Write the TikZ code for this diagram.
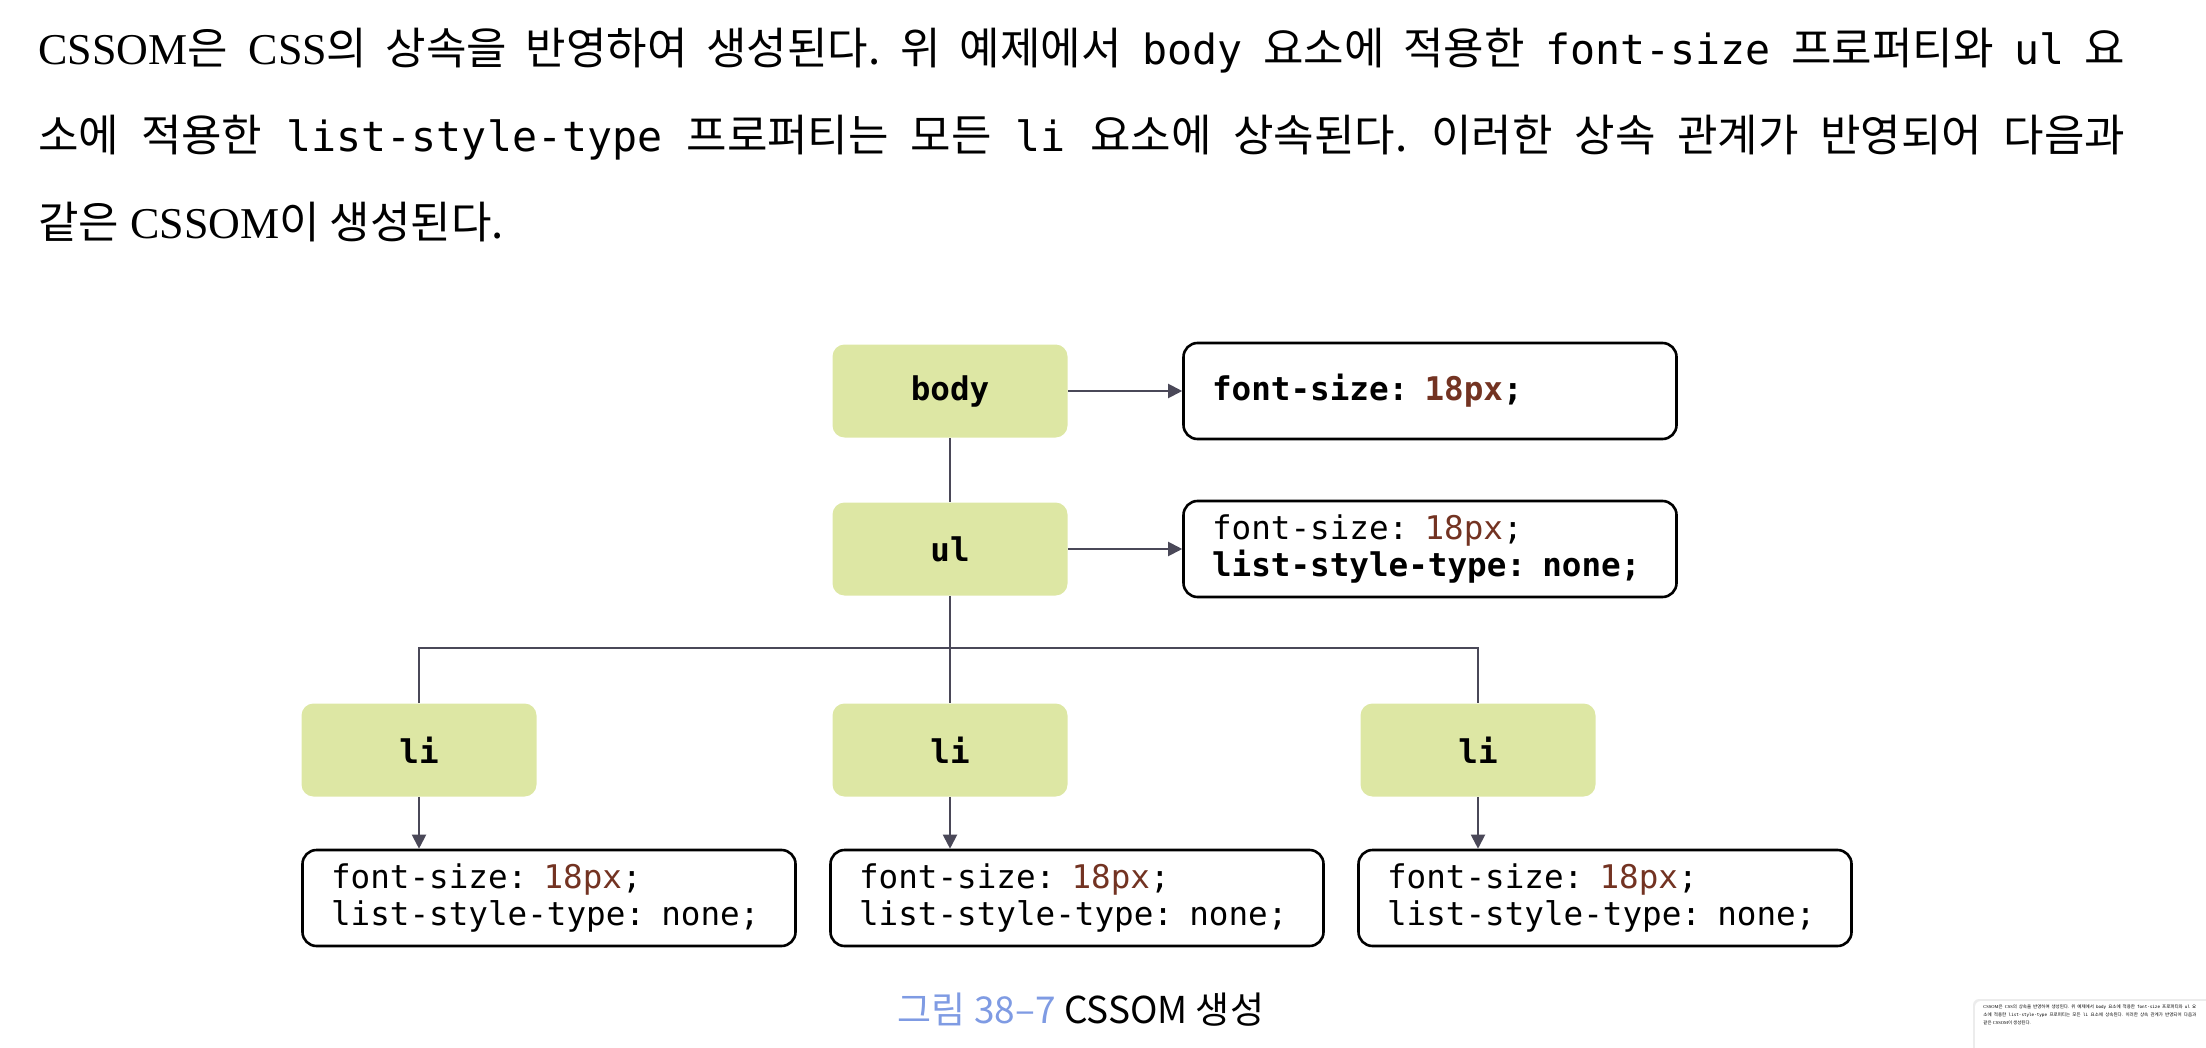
\documentclass[tikz,border=0pt]{standalone}
\usepackage{fontspec}
\usepackage{graphicx}
\setmainfont{Liberation Serif}
\setmonofont{DejaVu Sans Mono}
\newfontfamily\krfont{Noto Sans CJK KR}
\usetikzlibrary{arrows.meta, positioning, shadows}

\definecolor{tagfill}{HTML}{DDE7A4}
\definecolor{valbrown}{HTML}{733322}
\definecolor{wirecol}{HTML}{4A4858}
\definecolor{figblue}{HTML}{7F9BE3}

\newcommand{\hangul}[1]{{\krfont #1}}
\newcommand{\code}[1]{{\fontsize{20.8pt}{25pt}\selectfont\ttfamily #1}}
\newcommand{\pxval}[1]{\textcolor{valbrown}{#1}}
\newcommand{\paraone}{CSSOM\hangul{은} CSS\hangul{의 상속을 반영하여 생성된다.} \hangul{위 예제에서} \code{body} \hangul{요소에 적용한} \code{font-size} \hangul{프로퍼티와} \code{ul} \hangul{요}}
\newcommand{\paratwo}{\hangul{소에 적용한} \code{list-style-type} \hangul{프로퍼티는 모든} \code{li} \hangul{요소에 상속된다.} \hangul{이러한 상속 관계가 반영되어 다음과}}
\newcommand{\parathree}{\hangul{같은} CSSOM\hangul{이 생성된다.}}

\begin{document}
\begin{tikzpicture}[x=0.5pt, y=-0.5pt,
  para/.style={inner sep=0pt, anchor=base west, font=\fontsize{22pt}{30pt}\selectfont\frenchspacing},
  tag/.style={fill=tagfill, rounded corners=6pt, minimum width=117.5pt, minimum height=46.5pt,
    inner sep=0pt, font=\fontsize{16.3pt}{18pt}\selectfont\ttfamily\bfseries},
  rule/.style={draw=black, line width=1.3pt, rounded corners=7pt, minimum width=246.5pt,
    minimum height=48pt, inner xsep=14pt, inner ysep=2pt, text width=218pt, align=left,
    font=\fontsize{16.3pt}{18.5pt}\selectfont\ttfamily},
  wire/.style={draw=wirecol, line width=1pt},
  link/.style={wire, -{Triangle[length=7pt, width=7pt]}}]
  \useasboundingbox (0,0) rectangle (2206,1048);

  % paragraph above the figure
  \node[para] (p1) at (38,65) {\hbox to 1043.5pt{\paraone}};
  \node[para] (p2) at (38,152) {\hbox to 1043.5pt{\paratwo}};
  \node[para] (p3) at (38,239) {\parathree};

  % element tree
  \node[tag] (body) at (950,391) {body};
  \node[tag] (ul) at (950,549) {ul};
  \node[tag] (li1) at (419,750) {li};
  \node[tag] (li2) at (950,750) {li};
  \node[tag] (li3) at (1478,750) {li};

  % computed rules
  \node[rule] (bodycss) at (1430,391) {\bfseries font-size: \pxval{18px};};
  \node[rule] (ulcss) at (1430,549) {font-size: \pxval{18px};\\ {\bfseries list-style-type: none;}};
  \node[rule] (licss1) at (549,898) {font-size: \pxval{18px};\\ list-style-type: none;};
  \node[rule] (licss2) at (1077,898) {font-size: \pxval{18px};\\ list-style-type: none;};
  \node[rule] (licss3) at (1605,898) {font-size: \pxval{18px};\\ list-style-type: none;};

  % tree lines
  \coordinate (bus) at (950,648);
  \draw[wire] (body) -- (ul);
  \draw[wire] (ul) -- (bus);
  \draw[wire] (li1.north) |- (bus) -| (li3.north);
  \draw[wire] (bus) -- (li2);

  % inherited styles
  \draw[link] (body) -- (bodycss);
  \draw[link] (ul) -- (ulcss);
  \draw[link] (li1) -- (li1 |- licss1.north);
  \draw[link] (li2) -- (li2 |- licss2.north);
  \draw[link] (li3) -- (li3 |- licss3.north);

  % caption
  \node[font=\fontsize{18.5pt}{22pt}\selectfont\krfont] (caption) at (1081,1010)
    {\textcolor{figblue}{그림 38–7} CSSOM 생성};

  % preview thumbnail in the corner
  \fill[white, rounded corners=3pt, drop shadow={shadow xshift=-1pt, shadow yshift=1pt, opacity=0.15}]
    (1975,1001) rectangle (2260,1080);
  \node[anchor=north west, inner sep=0pt] (thumb) at (1983,1004)
    {\scalebox{0.102}{\vbox{\fontsize{22pt}{40pt}\selectfont\frenchspacing
      \hbox to 1043.5pt{\paraone}\hbox to 1043.5pt{\paratwo}\hbox{\parathree}}}};
\end{tikzpicture}
\end{document}
